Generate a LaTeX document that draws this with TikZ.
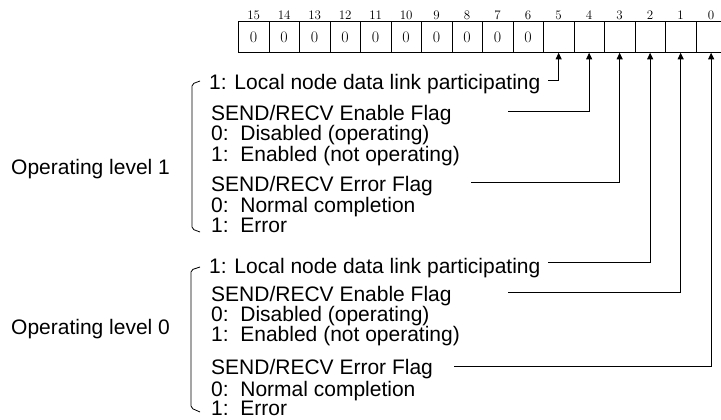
\documentclass[tikz,border=0pt]{standalone}
\usepackage{fontspec}
\newfontfamily\labelfont{Liberation Sans}
\usetikzlibrary{arrows.meta,positioning}
\tikzset{
  cellbox/.style={draw, line width=0.8pt, minimum width=30.5pt, minimum height=31pt, inner sep=0pt, anchor=north west, font=\fontsize{16}{16}\selectfont},
  bitnum/.style={inner sep=1.5pt, font=\fontsize{13}{13}\selectfont},
  txt/.style={anchor=base west, inner sep=0pt, font=\labelfont\fontsize{21}{20}\selectfont},
  flagline/.style={line width=0.8pt, -{Triangle[length=6.5pt,width=6pt]}},
  brace/.style={line width=0.8pt, rounded corners=2pt}
}

\begin{document}
\begin{tikzpicture}[x=1pt,y=-1pt]
  \useasboundingbox (0,0) rectangle (721,420);

  % register bits 15..0
  \foreach \i in {0,...,15} {
    \node[cellbox] (b\i) at ({238+(15-\i)*30.5},21) {\ifnum\i>5 0\fi};
    \node[bitnum, above=0pt of b\i] (n\i) {\i};
  }

  % operating level 1
  \node[txt] (lvl1) at (11,175) {Operating level 1};
  \draw[brace] (200,81) -- (192,84) -- (192,229) -- (200,232);
  \node[txt] (loc1) at (209,89.5) {1: Local node data link participating};
  \node[txt] (en1) at (211,120.5) {SEND/RECV Enable Flag};
  \node[txt] (en1a) at (211,140.5) {0:\ \ Disabled (operating)};
  \node[txt] (en1b) at (211,161.5) {1:\ \ Enabled (not operating)};
  \node[txt] (er1) at (211,191.5) {SEND/RECV Error Flag};
  \node[txt] (er1a) at (211,212.5) {0:\ \ Normal completion};
  \node[txt] (er1b) at (211,232.5) {1:\ \ Error};

  % operating level 0
  \node[txt] (lvl0) at (11,334) {Operating level 0};
  \draw[brace] (200,267) -- (191,270) -- (191,408) -- (200,412);
  \node[txt] (loc0) at (209,273.5) {1: Local node data link participating};
  \node[txt] (en0) at (211,301.5) {SEND/RECV Enable Flag};
  \node[txt] (en0a) at (211,321.5) {0:\ \ Disabled (operating)};
  \node[txt] (en0b) at (211,341.5) {1:\ \ Enabled (not operating)};
  \node[txt] (er0) at (211,374.5) {SEND/RECV Error Flag};
  \node[txt] (er0a) at (211,396) {0:\ \ Normal completion};
  \node[txt] (er0b) at (211,415) {1:\ \ Error};

  % line starts
  \coordinate (s5) at (548,80);
  \coordinate (s4) at (508,111);
  \coordinate (s3) at (471,182);
  \coordinate (s2) at (548,262);
  \coordinate (s1) at (508,292);
  \coordinate (s0) at (454,366);

  \foreach \i in {0,...,5}
    \draw[flagline] (s\i) -| (b\i.south);
\end{tikzpicture}
\end{document}
